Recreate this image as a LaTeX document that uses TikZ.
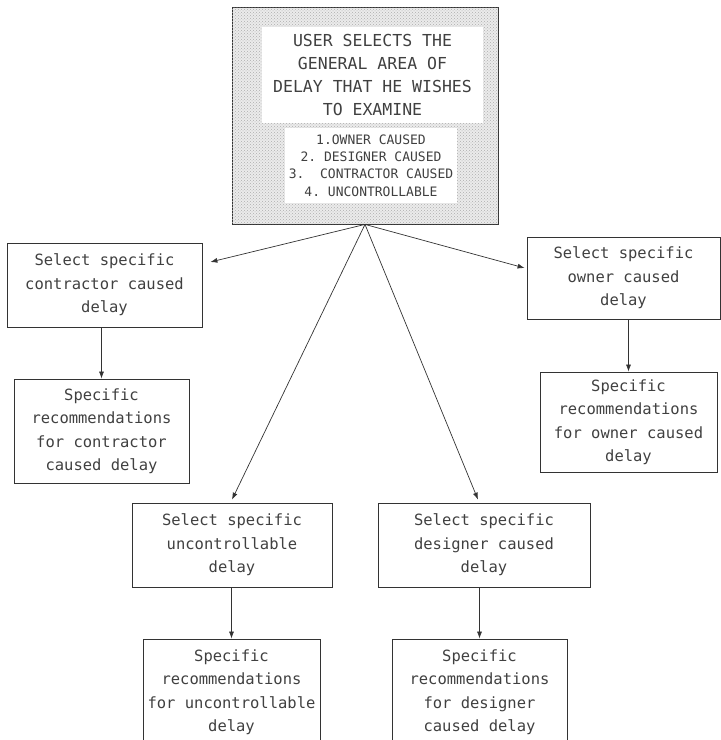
\documentclass[tikz,border=0pt]{standalone}
\usepackage{fontspec}
\setmonofont{DejaVu Sans Mono}
\usetikzlibrary{arrows.meta,patterns}

\begin{document}
\begin{tikzpicture}[x=1pt, y=-1pt, >={Latex[length=7pt,width=5pt]}]
        \useasboundingbox (0,0) rectangle (721,740);
        \tikzstyle{BoxStyle}=[draw=black!80, line width=0.8pt, inner sep=0pt, align=center,
          text=black!75, font=\ttfamily\fontsize{15.5}{23.5}\selectfont]
        \tikzstyle{EdgeStyle}=[draw=black!80, line width=0.7pt, ->]
        \node[BoxStyle, minimum width=266, minimum height=217, fill=black!8,
          postaction={pattern=crosshatch dots, pattern color=black!32}] (user) at (365,115.5) {};
        \node[fill=white, inner sep=0pt, minimum width=221, minimum height=96, align=center,
          text=black!75, font=\ttfamily\fontsize{16.5}{22.7}\selectfont] (title) at (372.5,75)
          {USER SELECTS THE\\GENERAL AREA OF\\DELAY THAT HE WISHES\\TO EXAMINE};
        \node[fill=white, inner sep=0pt, minimum width=172, minimum height=75, align=center,
          text=black!75, font=\ttfamily\fontsize{13}{17.3}\selectfont] (areas) at (371,165.5)
          {1.OWNER CAUSED\\2. DESIGNER CAUSED\\3.\ \ CONTRACTOR CAUSED\\4. UNCONTROLLABLE};
        \node[BoxStyle, minimum width=195, minimum height=84] (selC) at (104.5,285)
          {Select specific\\contractor caused\\delay};
        \node[BoxStyle, minimum width=175, minimum height=104] (recC) at (101.5,431)
          {Specific\\recommendations\\for contractor\\caused delay};
        \node[BoxStyle, minimum width=193, minimum height=82] (selO) at (623.5,278)
          {Select specific\\owner caused\\delay};
        \node[BoxStyle, minimum width=177, minimum height=100] (recO) at (628.5,422)
          {Specific\\recommendations\\for owner caused\\delay};
        \node[BoxStyle, minimum width=200, minimum height=84] (selU) at (232,545)
          {Select specific\\uncontrollable\\delay};
        \node[BoxStyle, minimum width=177, minimum height=106] (recU) at (231.5,692)
          {Specific\\recommendations\\for uncontrollable\\delay};
        \node[BoxStyle, minimum width=212, minimum height=84] (selD) at (484,545)
          {Select specific\\designer caused\\delay};
        \node[BoxStyle, minimum width=175, minimum height=106] (recD) at (479.5,692)
          {Specific\\recommendations\\for designer\\caused delay};
        \draw[EdgeStyle] (user.south) -- ([shift={(8,-23)}]selC.east);
        \draw[EdgeStyle] (user.south) -- ([shift={(-2,-10)}]selO.west);
        \draw[EdgeStyle] (user.south) -- ([shift={(0,-3)}]selU.north);
        \draw[EdgeStyle] (user.south) -- ([shift={(-6,-3)}]selD.north);
        \draw[EdgeStyle] (recC.north |- selC.south) -- (recC.north);
        \draw[EdgeStyle] (recO.north |- selO.south) -- (recO.north);
        \draw[EdgeStyle] (recU.north |- selU.south) -- (recU.north);
        \draw[EdgeStyle] (recD.north |- selD.south) -- (recD.north);
\end{tikzpicture}
\end{document}
